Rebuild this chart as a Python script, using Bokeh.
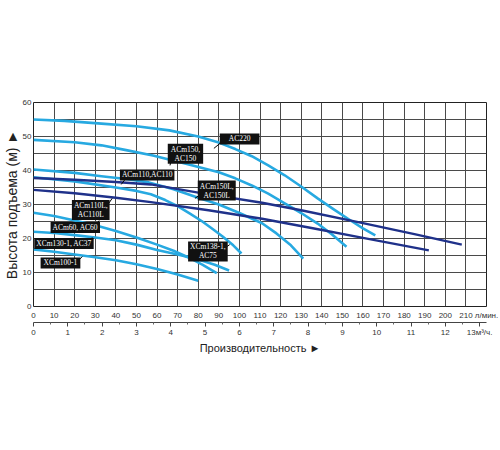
from bokeh.plotting import figure
from bokeh.models import Range1d, LinearAxis, FixedTicker, Label
from bokeh.embed import file_html
from bokeh.resources import INLINE

# ---- data (flow l/min, head m) ----
q_ac220 = [0, 15, 33, 50, 66, 80, 90, 98, 106, 114, 122, 130, 138, 146, 154, 160, 166]
h_ac220 = [55, 54.6, 53.8, 53, 51.8, 50, 48.2, 46.3, 44.2, 41.5, 38.6, 35.3, 31.8, 28.5, 25.3, 23, 20.9]

q_ac150 = [0, 20, 33, 45, 58, 74, 90, 98, 106, 114, 122, 130, 138, 145, 152]
h_ac150 = [49, 48.3, 47.4, 46, 44.4, 42, 39.5, 37.7, 35.6, 33.2, 30.3, 27.5, 24.4, 21.2, 17.6]

q_ac110 = [0, 20, 33, 45, 56, 68, 80, 90, 100, 111, 118, 125, 131]
h_ac110 = [40.3, 39.3, 38.3, 37.5, 36.5, 34.5, 32, 30, 27.5, 24.5, 21.5, 18, 14.1]

q_ac75 = [0, 20, 40, 50, 57, 64, 70, 76, 82, 87, 92, 97, 101]
h_ac75 = [38, 36.8, 35, 34, 33, 31.3, 29.5, 27.3, 25, 22.8, 20.5, 18, 15.6]

q_ac60 = [0, 10, 20, 30, 40, 50, 60, 68, 75, 82, 89]
h_ac60 = [27.6, 26.6, 25.3, 23.9, 22.2, 20.3, 18.2, 16.4, 14.5, 12.3, 9.8]

q_ac37 = [0, 10, 20, 30, 40, 50, 60, 70, 80, 88, 95]
h_ac37 = [22, 21.6, 21, 20.3, 19.5, 18.2, 16.6, 15.3, 13.8, 12.3, 10.6]

q_xcm100 = [0, 10, 20, 30, 40, 50, 60, 70, 80]
h_xcm100 = [16.8, 16.1, 15.3, 14.5, 13.6, 12.4, 11, 9.4, 7.6]

q_ac150l = [0, 20, 40, 57, 80, 111, 130, 160, 185, 208]
h_ac150l = [37.8, 37.3, 36.6, 35.9, 33.5, 30.5, 28.3, 24.5, 21.3, 18.2]

q_ac110l = [0, 20, 40, 57, 85, 111, 135, 160, 192]
h_ac110l = [34.3, 33.3, 32, 30.7, 28.3, 25.8, 23.1, 20.2, 16.5]

light_q = [q_ac220, q_ac150, q_ac110, q_ac75, q_ac60, q_ac37, q_xcm100]
light_h = [h_ac220, h_ac150, h_ac110, h_ac75, h_ac60, h_ac37, h_xcm100]
dark_q = [q_ac150l, q_ac110l]
dark_h = [h_ac150l, h_ac110l]

# labels: text, centre (q, h), leader from (lx0, ly0) to (lx1, ly1)
lab_text = ["AC220", "ACm150,\nAC150", "ACm110,AC110", "ACm150L,\nAC150L",
            "ACm110L,\nAC110L", "ACm60, AC60", "XCm130-1, AC37", "XCm100-1",
            "XCm138-1,\nAC75"]
lab_x = [100.1, 73.8, 55.2, 89.0, 27.8, 20.3, 14.8, 13.1, 84.7]
lab_y = [49.3, 44.9, 38.7, 34.1, 28.4, 23.2, 18.5, 12.8, 16.2]
lab_padx = [9, 3, 2, 2, 2, 2, 2, 3, 2]
lead_x0 = [91.0, 66.8, 44.5, 80.3, 35.8, 30.0, 26.6, 21.3, 93.4]
lead_y0 = [48.2, 42.9, 37.4, 32.6, 29.7, 23.8, 18.8, 13.2, 17.4]
lead_x1 = [87.6, 66.3, 42.6, 78.4, 38.2, 31.9, 28.5, 23.7, 95.3]
lead_y1 = [46.5, 41.5, 35.9, 31.8, 31.8, 25.3, 20.3, 14.7, 18.2]

lmin_ticks = list(range(0, 221, 10))
m3h_ticks = list(range(0, 14))
m3h_minor = [i + 0.5 for i in range(0, 13)]
y_ticks = list(range(0, 61, 10))
y_grid = list(range(0, 61, 5))

LIGHT = "#27a9e1"
DARK = "#1f318a"
FONT = "Liberation Sans"

p = figure(width=500, height=400, output_backend="svg", toolbar_location=None,
           x_range=Range1d(0, 220), y_range=Range1d(0, 60),
           min_border_top=102, min_border_right=14, min_border_left=31,
           min_border_bottom=94)
p.background_fill_color = "white"
p.border_fill_color = "white"
p.outline_line_color = "#222222"
p.outline_line_width = 1

# grid
p.xgrid.ticker = FixedTicker(ticks=lmin_ticks)
p.ygrid.ticker = FixedTicker(ticks=y_grid)
for g in (p.xgrid, p.ygrid):
    g.grid_line_color = "#4a4a4a"
    g.grid_line_width = 1
    g.grid_line_alpha = 1

# y axis
ya = p.yaxis[0]
ya.ticker = FixedTicker(ticks=y_ticks)
ya.axis_line_color = None
ya.major_tick_line_color = None
ya.minor_tick_line_color = None
ya.major_tick_out = 0
ya.major_tick_in = 0
ya.minor_tick_out = 0
ya.minor_tick_in = 0
ya.major_label_text_font = FONT
ya.major_label_text_font_size = "8px"
ya.major_label_text_color = "#333333"
ya.major_label_standoff = 2
ya.axis_label = "Высота подъема (м) ►"
ya.axis_label_text_font = FONT
ya.axis_label_text_font_size = "14px"
ya.axis_label_text_font_style = "normal"
ya.axis_label_text_color = "#222222"
ya.axis_label_standoff = 0

# x axis l/min
xa = p.xaxis[0]
xa.ticker = FixedTicker(ticks=lmin_ticks)
xa.major_label_overrides = {220: "л/мин."}
xa.axis_line_color = None
xa.major_tick_line_color = None
xa.minor_tick_line_color = None
xa.major_tick_out = 0
xa.major_tick_in = 0
xa.minor_tick_out = 0
xa.minor_tick_in = 0
xa.major_label_text_font = FONT
xa.major_label_text_font_size = "8px"
xa.major_label_text_color = "#333333"
xa.major_label_standoff = 4

# x axis m3/h
p.extra_x_ranges = {"m3h": Range1d(0, 220 / (1000 / 60))}
xb = LinearAxis(x_range_name="m3h",
                ticker=FixedTicker(ticks=m3h_ticks, minor_ticks=m3h_minor))
xb.major_label_overrides = {13: "13м³/ч."}
xb.axis_line_color = "#444444"
xb.axis_line_width = 1.2
xb.major_tick_line_color = "#444444"
xb.major_tick_out = 4
xb.major_tick_in = 0
xb.minor_tick_line_color = "#666666"
xb.minor_tick_out = 2
xb.minor_tick_in = 0
xb.major_label_text_font = FONT
xb.major_label_text_font_size = "8px"
xb.major_label_text_color = "#333333"
xb.major_label_standoff = 1
xb.axis_label = "Производительность ►"
xb.axis_label_text_font = FONT
xb.axis_label_text_font_size = "11px"
xb.axis_label_text_font_style = "normal"
xb.axis_label_text_color = "#222222"
xb.axis_label_standoff = 2
p.add_layout(xb, "below")

# curves
for qs, hs in zip(light_q, light_h):
    p.line(qs, hs, line_color=LIGHT, line_width=2.6, line_join="round")
for qs, hs in zip(dark_q, dark_h):
    p.line(qs, hs, line_color=DARK, line_width=2.4, line_join="round")

# leaders and labels
p.segment(x0=lead_x0, y0=lead_y0, x1=lead_x1, y1=lead_y1,
          line_color="black", line_width=1)
for t, x, y, px in zip(lab_text, lab_x, lab_y, lab_padx):
    p.add_layout(Label(x=x, y=y, text=t, text_align="center",
                       text_baseline="middle", text_color="white",
                       text_font="Liberation Serif", text_font_size="7.5px",
                       text_line_height=1.0,
                       background_fill_color="#111111", padding=(px, 1)))

open("out.html", "w").write(file_html(p, INLINE))
